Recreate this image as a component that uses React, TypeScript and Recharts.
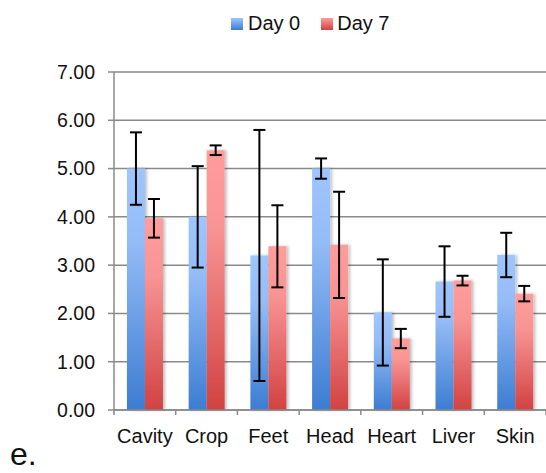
import React from 'react';
import { BarChart, Bar, XAxis, YAxis, CartesianGrid, Legend, ErrorBar } from 'recharts';

const categories = ['Cavity', 'Crop', 'Feet', 'Head', 'Heart', 'Liver', 'Skin'];
const day0 = [5.0, 4.0, 3.2, 5.0, 2.02, 2.66, 3.21];
const day0Err = [0.75, 1.05, 2.6, 0.21, 1.1, 0.73, 0.46];
const day7 = [3.97, 5.38, 3.39, 3.42, 1.48, 2.68, 2.41];
const day7Err = [0.4, 0.1, 0.85, 1.1, 0.2, 0.1, 0.16];
const yTicks = [0, 1, 2, 3, 4, 5, 6, 7];
const seriesNames = ['Day 0', 'Day 7'];

const data = categories.map((c, i) => ({
  name: c,
  d0: day0[i],
  e0: day0Err[i],
  d7: day7[i],
  e7: day7Err[i],
}));

const W = 546;
const H = 473;
const FONT = 'Liberation Sans, Arial, sans-serif';
const AXIS_COLOR = '#8a8a8a';

const XTick = (props: any) => {
  const { x, y, payload, index } = props;
  const half = (W - 114) / categories.length / 2;
  return (
    <g>
      <line x1={x - half} y1={y - 8} x2={x - half} y2={y - 3} stroke={AXIS_COLOR} strokeWidth={1.5} />
      {index === categories.length - 1 && (
        <line x1={x + half} y1={y - 8} x2={x + half} y2={y - 3} stroke={AXIS_COLOR} strokeWidth={1.5} />
      )}
      <text x={x} y={y + 25} textAnchor="middle" fontSize={20} fontFamily={FONT} fill="#111">
        {payload.value}
      </text>
    </g>
  );
};

const LegendContent = () => (
  <div style={{ display: 'flex', alignItems: 'center', fontFamily: FONT, fontSize: 20, color: '#111', whiteSpace: 'nowrap' }}>
    <span style={{ display: 'inline-block', width: 12, height: 12, background: 'linear-gradient(#9ec4fd, #3c7dd2)', marginRight: 5 }} />
    <span style={{ marginRight: 21 }}>{seriesNames[0]}</span>
    <span style={{ display: 'inline-block', width: 12, height: 12, background: 'linear-gradient(#ff9c9c, #d24040)', marginRight: 4 }} />
    <span>{seriesNames[1]}</span>
  </div>
);

export default function App() {
  return (
    <div style={{ position: 'absolute', left: 0, top: 0, width: W, height: H, background: '#fff' }}>
      <BarChart
        width={W}
        height={H}
        data={data}
        margin={{ top: 72, right: 0, bottom: 0, left: 0 }}
        barCategoryGap="21%"
        barGap={0}
      >
        <defs>
          <linearGradient id="gBlue" x1="0" y1="0" x2="0" y2="1">
            <stop offset="0" stopColor="#9fc5fe" />
            <stop offset="0.3" stopColor="#94bcf7" />
            <stop offset="1" stopColor="#3c7dd2" />
          </linearGradient>
          <linearGradient id="gRed" x1="0" y1="0" x2="0" y2="1">
            <stop offset="0" stopColor="#ff9c9c" />
            <stop offset="0.3" stopColor="#f89494" />
            <stop offset="1" stopColor="#d24242" />
          </linearGradient>
          <filter id="shadow" x="-20%" y="-5%" width="150%" height="110%">
            <feDropShadow dx="2" dy="0" stdDeviation="1.5" floodColor="#000" floodOpacity="0.25" />
          </filter>
        </defs>
        <CartesianGrid vertical={false} stroke={AXIS_COLOR} strokeWidth={1.5} />
        <XAxis
          dataKey="name"
          height={63}
          axisLine={{ stroke: AXIS_COLOR, strokeWidth: 1.5 }}
          tickLine={false}
          tick={<XTick />}
          interval={0}
        />
        <YAxis
          width={114}
          domain={[0, 7]}
          ticks={yTicks}
          interval={0}
          tickFormatter={(v: number) => v.toFixed(2)}
          axisLine={{ stroke: AXIS_COLOR, strokeWidth: 1.5 }}
          tickLine={{ stroke: AXIS_COLOR, strokeWidth: 1.5 }}
          tickSize={6}
          tickMargin={13}
          tick={{ fontSize: 19.5, fontFamily: FONT, fill: '#111' }}
        />
        <Legend
          layout="horizontal"
          verticalAlign="middle"
          align="center"
          wrapperStyle={{ top: 12, left: 231, width: 170 }}
          content={<LegendContent />}
        />
        <Bar dataKey="d0" name={seriesNames[0]} fill="url(#gBlue)" filter="url(#shadow)" isAnimationActive={false}>
          <ErrorBar dataKey="e0" width={6} stroke="#000" strokeWidth={2} direction="y" />
        </Bar>
        <Bar dataKey="d7" name={seriesNames[1]} fill="url(#gRed)" filter="url(#shadow)" isAnimationActive={false}>
          <ErrorBar dataKey="e7" width={6} stroke="#000" strokeWidth={2} direction="y" />
        </Bar>
      </BarChart>
      <div style={{ position: 'absolute', left: 10, top: 438, fontFamily: FONT, fontSize: 32, color: '#111', lineHeight: 1 }}>
        e.
      </div>
    </div>
  );
}
